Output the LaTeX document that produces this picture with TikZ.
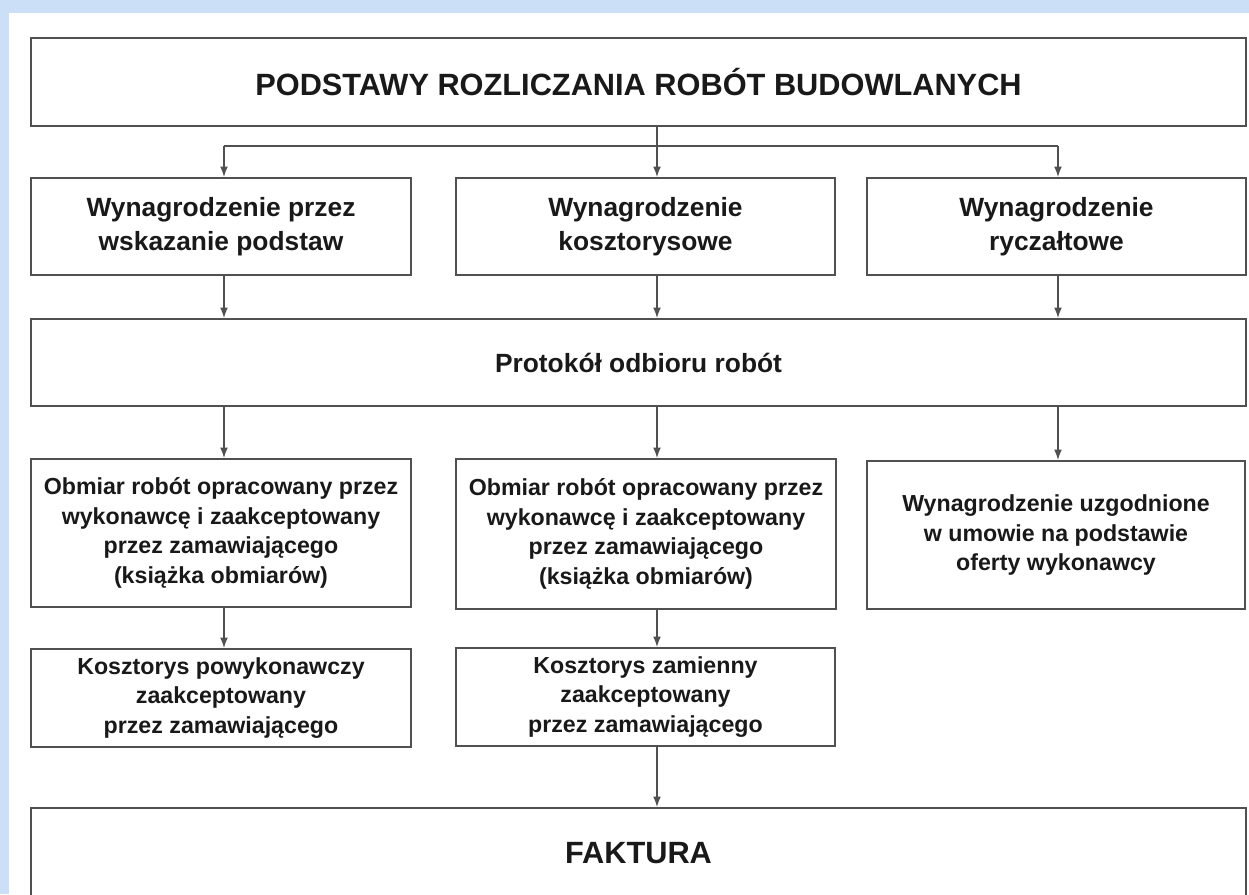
\documentclass[tikz,border=0pt]{standalone}
\usepackage{fontspec}
\setmainfont{Liberation Sans}
\usetikzlibrary{arrows.meta}

\definecolor{tlo}{RGB}{203,224,246}
\definecolor{ramka}{RGB}{80,80,80}
\definecolor{tekst}{RGB}{25,25,25}

\tikzset{
  boxsize/.style 2 args={minimum width=#1*0.02cm, minimum height=#2*0.02cm},
  box/.style={draw=ramka, line width=1.1pt, fill=white, align=center,
    text=tekst, inner sep=0pt, font=\bfseries\fontsize{15}{19}\selectfont},
  bigbox/.style={box, font=\bfseries\fontsize{17.5}{21}\selectfont},
  smallbox/.style={box, font=\bfseries\fontsize{13.2}{16.8}\selectfont},
  arr/.style={draw=ramka, line width=0.8pt, -{Latex[length=6pt,width=4.5pt]}},
  line/.style={draw=ramka, line width=0.8pt}
}

\begin{document}
\begin{tikzpicture}[x=0.02cm, y=-0.02cm]
    \useasboundingbox (0,0) rectangle (1249,894);
    \fill[tlo] (0,0) rectangle (1249,894);
    \fill[white] (9,13) rectangle (1249,894);
    \clip (0,0) rectangle (1249,894);

    \node[bigbox, boxsize={1215}{88}] (title) at (638.5,82)
        {PODSTAWY ROZLICZANIA ROBÓT BUDOWLANYCH};

    \node[box, boxsize={380}{97}] (wsk) at (221,226.5)
        {Wynagrodzenie przez\\wskazanie podstaw};
    \node[box, boxsize={379}{97}] (kosz) at (645.5,226.5)
        {Wynagrodzenie\\kosztorysowe};
    \node[box, boxsize={379}{97}] (rycz) at (1056.5,226.5)
        {Wynagrodzenie\\ryczałtowe};

    \node[box, boxsize={1215}{87}] (prot) at (638.5,362.5)
        {Protokół odbioru robót};

    \node[smallbox, boxsize={380}{148}] (obm1) at (221,533)
        {Obmiar robót opracowany przez\\wykonawcę i zaakceptowany\\przez zamawiającego\\(książka obmiarów)};
    \node[smallbox, boxsize={380}{150}] (obm2) at (646,534)
        {Obmiar robót opracowany przez\\wykonawcę i zaakceptowany\\przez zamawiającego\\(książka obmiarów)};
    \node[smallbox, boxsize={378}{148}] (uzg) at (1056,535)
        {Wynagrodzenie uzgodnione\\w umowie na podstawie\\oferty wykonawcy};

    \node[smallbox, boxsize={380}{98}] (kpow) at (221,698)
        {Kosztorys powykonawczy\\zaakceptowany\\przez zamawiającego};
    \node[smallbox, boxsize={379}{98}] (kzam) at (645.5,697)
        {Kosztorys zamienny\\zaakceptowany\\przez zamawiającego};

    \node[bigbox, boxsize={1215}{90}] (fakt) at (638.5,853) {FAKTURA};

    % columns of the connectors
    \coordinate (k1) at (224,146);
    \coordinate (k2) at (657,146);
    \coordinate (k3) at (1058,146);

    \draw[line] (title.south -| k2) -- (k2);
    \draw[line] (k1) -- (k3);
    \draw[arr] (k1) -- (wsk.north -| k1);
    \draw[arr] (k2) -- (kosz.north -| k2);
    \draw[arr] (k3) -- (rycz.north -| k3);

    \draw[arr] (wsk.south -| k1) -- (prot.north -| k1);
    \draw[arr] (kosz.south -| k2) -- (prot.north -| k2);
    \draw[arr] (rycz.south -| k3) -- (prot.north -| k3);

    \draw[arr] (prot.south -| k1) -- (obm1.north -| k1);
    \draw[arr] (prot.south -| k2) -- (obm2.north -| k2);
    \draw[arr] (prot.south -| k3) -- (uzg.north -| k3);

    \draw[arr] (obm1.south -| k1) -- (kpow.north -| k1);
    \draw[arr] (obm2.south -| k2) -- (kzam.north -| k2);
    \draw[arr] (kzam.south -| k2) -- (fakt.north -| k2);
\end{tikzpicture}
\end{document}
